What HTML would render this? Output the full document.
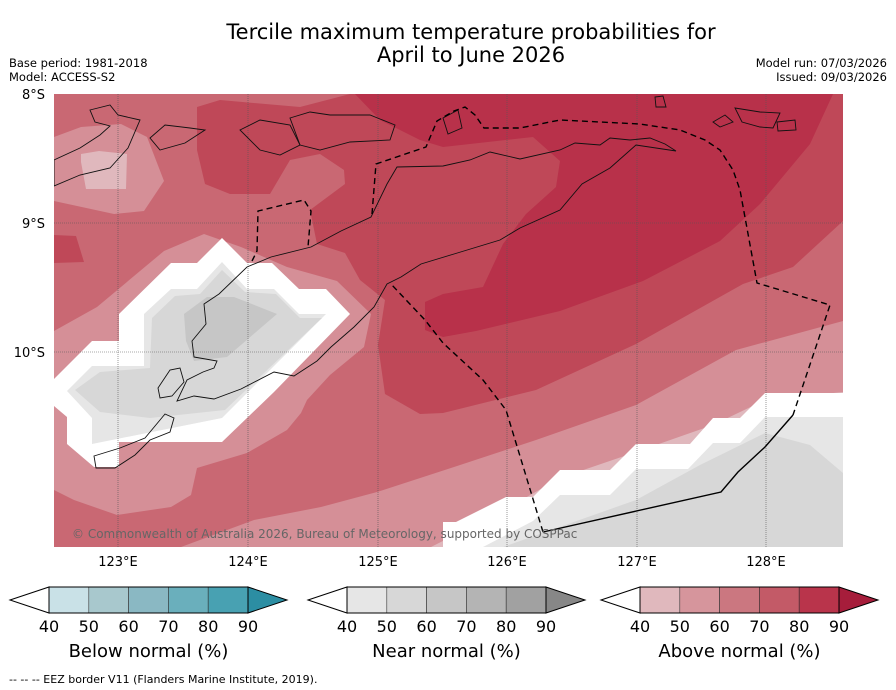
<!DOCTYPE html>
<html><head><meta charset="utf-8"><style>
body{margin:0;background:#fff;font-family:"DejaVu Sans","Liberation Sans",sans-serif;}
svg{display:block}
</style></head><body>
<svg id="chart" width="896" height="690" viewBox="0 0 896 690" xmlns="http://www.w3.org/2000/svg">
<text x="471" y="39" font-size="21" text-anchor="middle">Tercile maximum temperature probabilities for</text>
<text x="471" y="62" font-size="21" text-anchor="middle">April to June 2026</text>
<text x="9" y="67" font-size="11.5">Base period: 1981-2018</text>
<text x="9" y="81" font-size="11.5">Model: ACCESS-S2</text>
<text x="887" y="67" font-size="11.5" text-anchor="end">Model run: 07/03/2026</text>
<text x="887" y="81" font-size="11.5" text-anchor="end">Issued: 09/03/2026</text>
<defs><clipPath id="mapclip"><rect x="54" y="94" width="789" height="453"/></clipPath></defs>
<g id="map" clip-path="url(#mapclip)">
<rect x="54" y="94" width="789" height="453" fill="#c96873"/>
<polygon fill="#bf4858" points="197,107 220,100 300,107 350,94 843,94 843,221 793,267 743,284 636,344 536,390 443,413 420,414 385,394 378,345 385,300 360,280 345,253 317,244 310,210 345,184 344,170 320,154 290,160 270,194 230,194 205,184 197,150"/>
<polygon fill="#bf4858" points="54,235 76,236 84,262 54,263"/>
<polygon fill="#b8314a" points="355,94 833,94 810,144 760,204 720,241 643,281 560,311 476,331 443,337 425,330 425,302 443,294 483,287 503,244 526,214 556,187 560,161 533,137 443,147 420,140 380,120"/>
<polygon fill="#d58f97" points="54,137 81,127 121,124 147,137 164,181 144,211 114,214 54,201"/>
<polygon fill="#e0b8bd" points="81,154 99,151 127,154 126,189 86,189 81,162"/>
<polygon fill="#d58f97" points="54,331 97,307 164,251 204,234 241,247 287,267 337,281 371,314 364,347 330,375 307,400 301,413 287,430 247,453 197,468 191,495 171,507 117,515 74,500 54,490"/>
<polygon fill="#d58f97" points="181,547 254,520 321,507 377,492 454,467 536,440 636,405 736,350 843,321 843,547"/>
<polygon fill="#e0b8bd" points="431,547 504,510 560,478 636,452 713,425 765,400 843,392 843,547"/>
<polygon fill="#ffffff" points="443,547 443,522 456,522 506,497 533,497 560,470 610,470 636,444 690,444 713,418 740,418 765,393 843,393 843,547"/>
<polygon fill="#e6e6e6" points="483,547 533,521 560,495 610,495 636,469 688,469 713,443 740,443 765,417 843,417 843,547"/>
<polygon fill="#d7d7d7" points="503,547 636,500 700,465 765,433 810,445 843,473 843,547"/>
<polygon fill="#ffffff" points="54,379 92,341 119,341 119,314 171,263 197,263 222,238 247,263 272,263 299,289 326,289 350,314 274,392 222,442 119,442 119,467 94,467 67,444 67,417 54,406"/>
<polygon fill="#e6e6e6" points="67,391 92,366 144,366 144,314 171,289 197,289 222,262 247,289 274,289 299,314 326,314 222,418 92,444 92,418"/>
<polygon fill="#d7d7d7" points="75,390 100,372 150,368 152,318 175,296 200,294 222,270 245,292 276,294 300,318 322,318 225,410 150,418 100,412"/>
<polygon fill="#c6c6c6" points="184,314 207,297 234,297 277,314 227,357 194,361 186,341"/>
<g stroke="#555" stroke-width="0.6" stroke-dasharray="1,1" fill="none">
<line x1="118" y1="94" x2="118" y2="547"/><line x1="248" y1="94" x2="248" y2="547"/><line x1="378" y1="94" x2="378" y2="547"/><line x1="507" y1="94" x2="507" y2="547"/><line x1="637" y1="94" x2="637" y2="547"/><line x1="766" y1="94" x2="766" y2="547"/>
<line x1="54" y1="223" x2="843" y2="223"/><line x1="54" y1="352" x2="843" y2="352"/>
</g>
<g fill="none" stroke="#111" stroke-width="0.9">
<polygon points="194,357 217,361 214,368 203,372 187,380 177,401 194,396 214,399 241,389 274,372 294,376 317,361 331,347 354,327 374,307 387,284 401,277 421,264 454,254 500,240 520,228 560,210 582,184 610,168 636,145 676,151 665,144 650,138 630,140 610,138 600,145 575,143 560,150 520,159 490,152 470,160 443,166 397,167 387,184 371,217 341,231 311,247 271,257 247,267 219,294 204,304 206,324 192,341"/>
<polygon points="158,388 170,370 180,368 184,382 172,396 160,398"/>
<polygon points="94,456 120,448 145,438 165,414 174,418 170,432 150,440 135,455 115,468 96,468"/>
<polygon points="54,160 80,148 100,135 110,126 95,122 90,110 110,105 118,115 140,120 128,148 110,168 80,175 54,186"/>
<polygon points="150,138 165,125 190,128 205,130 185,143 160,150"/>
<polygon points="240,130 260,120 290,125 300,145 280,155 260,150"/>
<polygon points="290,118 310,112 330,115 370,115 395,125 390,140 350,142 320,150 300,145"/>
<polygon points="443,118 458,110 462,128 448,134"/>
<polygon points="655,97 663,96 666,107 656,107"/>
<polygon points="713,122 725,115 733,122 720,127"/>
<polygon points="735,108 760,112 780,113 773,128 760,127 742,122"/>
<polygon points="777,122 795,120 796,130 778,131"/>
</g>
<g fill="none" stroke="#000" stroke-width="1.4">
<polyline stroke-dasharray="6,4" points="372,214 376,164 426,147 437,121 454,111 465,107 475,115 484,128 520,128 560,120 600,122 640,124 680,130 705,140 720,150 733,170 740,190 757,283 830,305 793,415"/>
<polyline points="793,415 765,447 738,472 721,492 543,532"/>
<polyline stroke-dasharray="6,4" points="543,532 506,410 483,380 443,343 425,320 391,284"/>
<polyline stroke-dasharray="6,4" points="252,261 257,251 258,211 304,200 311,211 308,247"/>
</g>
<text x="72" y="538" font-size="12" fill="#666">© Commonwealth of Australia 2026, Bureau of Meteorology, supported by COSPPac</text>
</g>
<g font-size="13">
<text x="45" y="99" text-anchor="end">8°S</text>
<text x="45" y="228" text-anchor="end">9°S</text>
<text x="45" y="357" text-anchor="end">10°S</text>
<text x="118" y="566" text-anchor="middle">123°E</text>
<text x="248" y="566" text-anchor="middle">124°E</text>
<text x="378" y="566" text-anchor="middle">125°E</text>
<text x="507" y="566" text-anchor="middle">126°E</text>
<text x="637" y="566" text-anchor="middle">127°E</text>
<text x="766" y="566" text-anchor="middle">128°E</text>
</g>
<g id="colorbars"></g>
<text x="9" y="683" font-size="11">--  --  -- EEZ border V11 (Flanders Marine Institute, 2019).</text>
</svg>
<script>
const tickLabels = ["40","50","60","70","80","90"];
const barTitles = ["Below normal (%)","Near normal (%)","Above normal (%)"];
const belowColors = ["#c9e1e7","#a8c8cd","#8ab8c3","#6aafbc","#48a1b2","#2c8ea3"];
const nearColors = ["#e6e6e6","#d7d7d7","#c6c6c6","#b4b4b4","#a1a1a1","#878787"];
const aboveColors = ["#e0b8bd","#d6959c","#cb7780","#c35a67","#b9344b","#a61d3b"];
const barLefts = [10,308,601];
const NS="http://www.w3.org/2000/svg";
const g=document.getElementById('colorbars');
const sets=[belowColors,nearColors,aboveColors];
function mk(t,a){const e=document.createElementNS(NS,t);for(const k in a)e.setAttribute(k,a[k]);return e;}
sets.forEach((cols,i)=>{
  const x0=barLefts[i], w=277, tri=39, y0=587, h=26;
  const bw=(w-2*tri)/(tickLabels.length-1);
  const left=mk('polygon',{points:`${x0},${y0+h/2} ${x0+tri},${y0} ${x0+tri},${y0+h}`,fill:'#fff',stroke:'#000','stroke-width':1});
  
  
  g.appendChild(left);
  for(let j=0;j<tickLabels.length-1;j++){
    const r=mk('rect',{x:x0+tri+j*bw,y:y0,width:bw,height:h,fill:cols[j],stroke:'#333','stroke-width':0.6});
    
    
    g.appendChild(r);
  }
  const xr=x0+tri+(tickLabels.length-1)*bw;
  const right=mk('polygon',{points:`${xr},${y0} ${x0+w},${y0+h/2} ${xr},${y0+h}`,fill:cols[5],stroke:'#000','stroke-width':1});
  
  
  g.appendChild(right);
  const outline=mk('rect',{x:x0+tri,y:y0,width:xr-x0-tri,height:h,fill:'none',stroke:'#000','stroke-width':1});
  
  
  g.appendChild(outline);
  tickLabels.forEach((t,j)=>{
    const tx=mk('text',{x:x0+tri+j*bw,y:632,'font-size':16,'text-anchor':'middle'});
    tx.textContent=t;
    
    
    g.appendChild(tx);
  });
  const tt=mk('text',{x:x0+w/2,y:657,'font-size':18,'text-anchor':'middle'});
  tt.textContent=barTitles[i];
  
  
  g.appendChild(tt);
});
</script>
</body></html>
